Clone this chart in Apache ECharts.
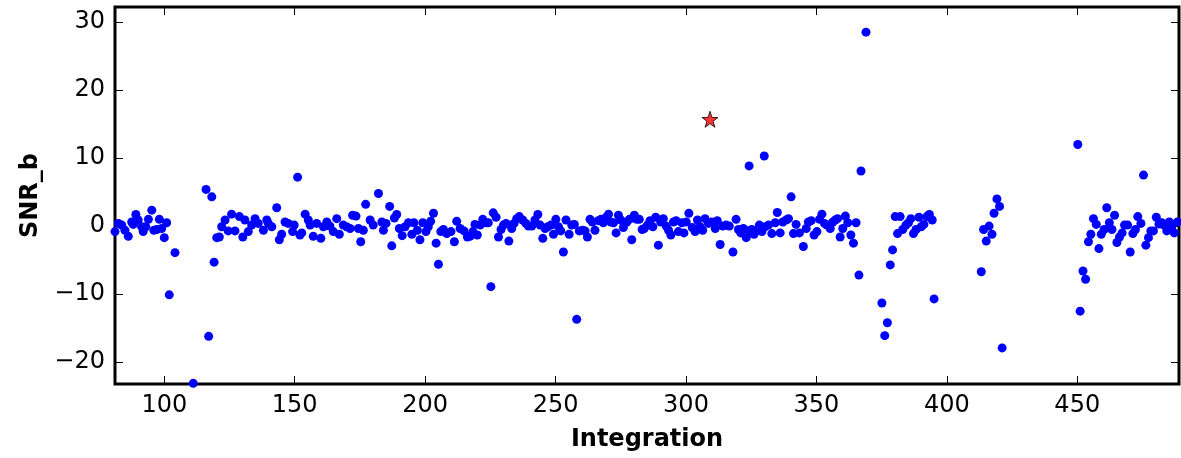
<!DOCTYPE html>
<html>
<head>
<meta charset="utf-8">
<script src="https://cdn.jsdelivr.net/npm/echarts@6/dist/echarts.min.js"></script>
<style>
html,body{margin:0;padding:0;background:#fff;}
#chart{width:1181px;height:458px;}
</style>
</head>
<body>
<div id="chart"></div>
<script>
// Integration index of each blue point
const integration = [
81.1,82.4,83.7,84.9,86.2,87.5,88.1,89.1,90,91.3,91.9,92.9,93.9,95.2,96,97.1,98.1,99,100,100.9,
101.9,104.1,111.1,116,117,118.2,119.1,120.1,121.1,122,123.3,124.5,125.8,127.1,128.8,130.1,130.9,132.2,133.5,134.8,
136,138,139.3,139.9,141.2,143.1,144.1,145,146.3,147.5,149.2,149.8,151.1,152,152.7,154,155.2,155.9,157.1,158.4,
160,161,162.3,163.5,164.8,166.1,167.1,168.6,169.9,171.2,172.2,173.5,174.4,175.3,176.3,177.2,178.9,180.1,182.1,183.4,
184,185,186.4,187.2,188.2,189.1,190.1,191.2,192.3,193.6,194.9,195.7,197,198,199.1,200.3,201.2,202.1,203.2,204.2,
205.1,206,207,208.3,209.9,211.2,212.1,213.4,214.9,216.2,217.2,218.3,219.1,220,221.1,222.1,223.4,224.2,225.2,226.1,
227.2,228.1,229.1,230,231,232.1,233.2,234.1,235.1,236.1,237.4,238.6,239.6,240.9,242.1,243.2,244.1,245.1,246,247,
248.2,249.2,250.1,251.1,252,253,254,255.2,256.2,257.2,258.1,259.1,260.4,261.3,262.2,263.2,264.1,265.1,266.4,267.4,
268.3,269.4,270.3,271.2,272.2,273.2,274.1,275,276,277.3,278.3,279.2,280.2,281.1,282.1,283.2,284,285.2,286.2,287.3,
288.4,289.4,290.3,291.3,292.4,293.3,294.2,295.2,296.2,297.1,298.4,299.2,300.1,301.1,302.4,303.5,304.4,305.4,306.4,307.3,
308.6,309.9,311.2,312,313.1,314.1,315.4,316.6,318,319.2,320.1,321,322,323.1,324.2,324.2,325.2,326.1,327.1,328.1,
329.1,330,330.3,331.6,332.9,334.2,335,336.1,337.1,338.4,339.3,340.3,341.2,342.2,343.5,345,346.1,346.9,348,349.1,
350.2,351.2,352.1,353.1,354,355.3,356.3,357.2,358.1,359.1,360.1,361.1,362,363.2,364.2,365.2,366.3,367.1,369,375.1,
376.2,377.2,378.3,379.2,380.2,381.1,382.1,383.1,384.3,385.3,386.2,387.2,388.2,389.3,390.2,391.2,392.3,393.3,394.4,395.1,
413.2,414.1,415.1,416.2,417.3,418.1,419.2,420.2,421.2,450.2,451.1,452.2,453.2,454.3,455.2,456.2,457.3,458.3,459.2,460.3,
461.3,462.3,463.3,464.3,465.2,466.2,467.2,468.1,469.3,470.3,471.3,472.3,473.2,474.4,475.4,476.3,477.3,478.2,479.2,480.3,
481.3,482.4,483.3,484.3,485.3,486.2,487.2,488.4
];
// SNR_b value of each blue point
const snr = [
-0.8,0.4,0.15,-0.6,-1.5,0.6,0.25,1.7,0.9,-0.1,-0.8,-0.1,1.0,2.35,-0.6,-0.5,1.0,-0.35,-1.7,0.5,
-10.1,-3.9,-23.1,5.4,-16.2,4.3,-5.3,-1.7,-1.6,-0.1,0.9,-0.7,1.76,-0.7,1.4,-1.6,0.9,-0.8,0.15,1.1,
0.4,-0.6,0.9,0.4,-0.1,2.7,-2.0,-1.2,0.6,0.4,-0.8,0.15,7.2,-1.3,-1.0,1.76,0.9,0.15,-1.5,0.4,
-1.8,-0.1,0.6,0,-0.8,1.1,-1.2,0.15,-0.1,-0.35,1.6,1.47,-0.35,-2.3,-0.6,3.2,0.9,0.15,4.8,0.6,
-0.6,0.4,2.9,-2.9,1.2,1.7,-0.35,-1.4,-0.1,0.5,-1.2,0.5,-0.6,-2.0,0.5,-0.8,-0.1,0.7,1.9,-2.5,
-5.6,-0.8,-0.5,-1.1,-0.8,-2.3,0.7,-0.35,-0.7,-1.6,-1.5,-0.8,0.25,-1.3,0.15,1.0,0.5,0.5,-8.9,1.95,
1.3,-1.6,-0.5,0.15,0.4,-2.2,-0.35,0.4,1.1,1.4,0.9,0.4,0,0,0.9,1.7,0.15,-1.8,-0.35,-0.1,
0.15,-1.2,1.0,-0.1,-0.7,-3.8,0.9,-1.2,0.15,0.25,-13.7,-0.7,-0.6,-0.7,-1.6,1.0,0.6,-0.6,0.8,1.0,
0.5,1.3,1.76,0.6,0.5,-1.0,1.6,0.9,-0.2,0.6,1.0,-2.0,1.6,1.0,1.0,-0.5,-0.35,0.15,0.8,-0.1,
1.3,-2.8,0.6,1.1,0,-0.6,-1.3,0.6,0.8,-0.8,0.5,-1.0,0.6,1.9,-0.2,-0.8,0.9,-0.1,-0.6,1.1,
0.4,0.6,-0.35,0.8,-2.7,0,0.15,0,-3.8,1.0,-0.5,-1.0,-0.35,-1.7,8.85,-0.7,-0.5,-1.2,-0.6,0.15,
-0.8,10.3,-0.1,0.15,-1.1,0.5,2.0,-1.0,0.6,0.9,1.1,4.3,-1.1,0.25,-1.0,-3.0,-0.35,0.6,0.8,-1.3,
-0.8,1.0,1.76,0.4,0.15,-0.35,0.6,0.9,1.1,-1.6,-0.35,1.47,0.5,-1.3,-2.5,0.5,-7.2,8.1,28.5,-11.3,
-16.1,-14.2,-5.7,-3.5,1.4,-1.1,1.4,-0.5,0.15,0.5,1.1,-1.1,-0.5,1.3,-0.1,0.25,1.4,1.7,0.9,-10.7,
-6.7,-0.5,-2.2,0,-1.2,1.9,4.0,2.9,-17.9,12.0,-12.5,-6.6,-7.8,-2.3,-1.2,1.1,0.25,-3.3,-1.2,-0.5,
2.7,0.5,-0.5,1.6,-2.4,-1.6,-1.0,0.15,0.15,-3.8,-1.1,-0.5,1.4,0.4,7.5,-2.8,-1.7,-0.7,-0.7,1.3,
0.3,0.5,0.15,-0.7,0.6,-0.1,-1.0,0.6
];
// Highlighted point (red star)
const starIntegration = [309.2];
const starSnr = [15.7];

const xTicks = [100,150,200,250,300,350,400,450];
const yTicks = [-20,-10,0,10,20,30];
const xRange = [81.1, 489];
const yRange = [-23.2, 32.2];

const blueData = integration.map((x,i)=>[x, snr[i]]);
const starData = starIntegration.map((x,i)=>[x, starSnr[i]]);

const FONT = 'DejaVu Sans';
const fmt = v => (v < 0 ? '\u2212' + Math.abs(v) : String(v));

const tickStyle = {show:true, inside:true, length:8, lineStyle:{color:'#000', width:1}};
const noLine = {show:false, onZero:false};

const chart = echarts.init(document.getElementById('chart'), null, {renderer:'canvas'});
chart.setOption({
  animation:false,
  backgroundColor:'#fff',
  grid:{left:115, right:2, top:7, bottom:74, show:true, borderColor:'#000', borderWidth:3, backgroundColor:'transparent'},
  xAxis:[
    {type:'value', position:'bottom', min:xRange[0], max:xRange[1],
     name:'Integration', nameLocation:'middle', nameGap:44,
     nameTextStyle:{fontFamily:FONT, fontWeight:'bold', fontSize:24, color:'#000'},
     axisLine:noLine, splitLine:{show:false},
     axisTick:Object.assign({customValues:xTicks}, tickStyle),
     axisLabel:{customValues:xTicks, formatter:fmt, fontFamily:FONT, fontSize:24, color:'#000', margin:10}},
    {type:'value', position:'top', min:xRange[0], max:xRange[1],
     axisLine:noLine, splitLine:{show:false},
     axisTick:Object.assign({customValues:xTicks}, tickStyle),
     axisLabel:{show:false, customValues:xTicks}}
  ],
  yAxis:[
    {type:'value', position:'left', min:yRange[0], max:yRange[1],
     name:'SNR_b', nameLocation:'middle', nameGap:72, nameRotate:90,
     nameTextStyle:{fontFamily:FONT, fontWeight:'bold', fontSize:24, color:'#000'},
     axisLine:noLine, splitLine:{show:false},
     axisTick:Object.assign({customValues:yTicks}, tickStyle),
     axisLabel:{customValues:yTicks, formatter:fmt, fontFamily:FONT, fontSize:24, color:'#000', margin:10}},
    {type:'value', position:'right', min:yRange[0], max:yRange[1],
     axisLine:noLine, splitLine:{show:false},
     axisTick:Object.assign({customValues:yTicks}, tickStyle),
     axisLabel:{show:false, customValues:yTicks}}
  ],
  series:[
    {type:'scatter', data:blueData, symbol:'circle', symbolSize:9, clip:true,
     itemStyle:{color:'#0000ff', opacity:1}},
    {type:'scatter', data:starData, clip:true,
     symbol:'path://M50,0 L61.8,35.1 L98.1,35.1 L68.8,56.7 L79.4,91 L50,70 L20.6,91 L31.2,56.7 L1.9,35.1 L38.2,35.1 Z',
     symbolSize:16, itemStyle:{color:'#ff0000', borderColor:'#000', borderWidth:1}}
  ]
});
</script>
</body>
</html>
